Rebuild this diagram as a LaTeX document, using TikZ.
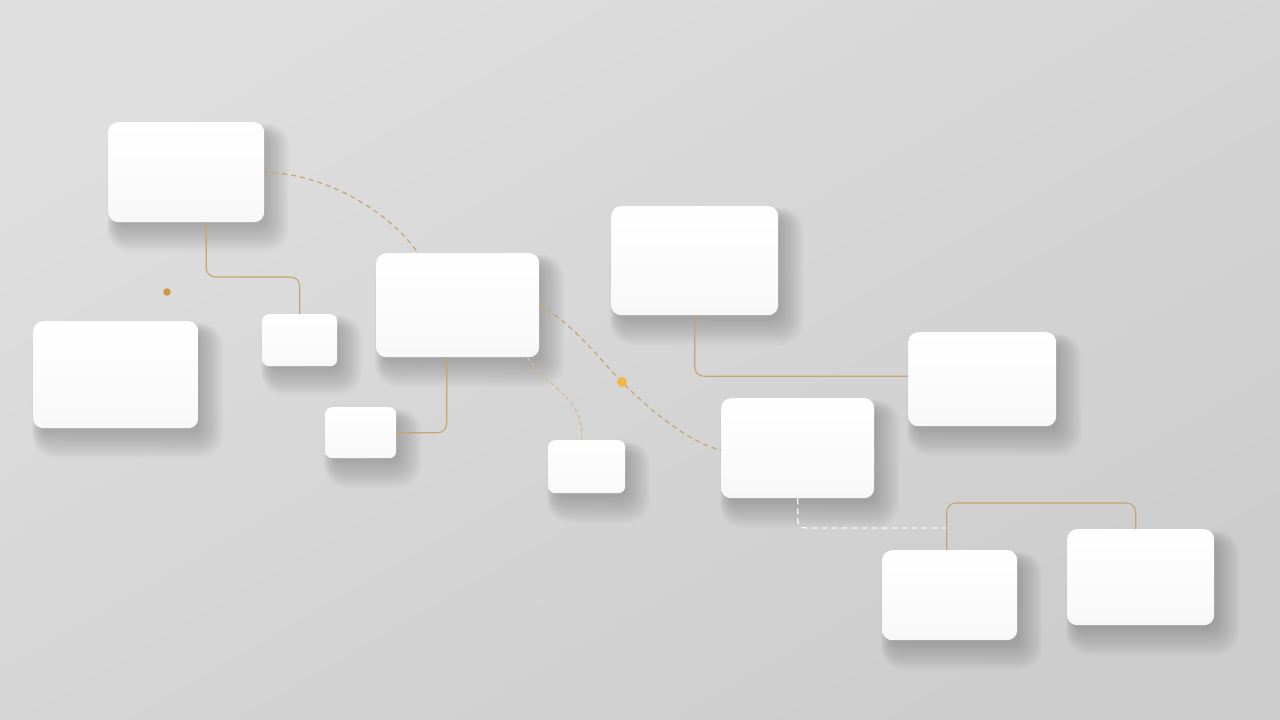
\documentclass[tikz,border=0pt]{standalone}
\usetikzlibrary{calc}
\definecolor{bgA}{HTML}{DEDEDE}
\definecolor{bgB}{HTML}{CDCDCD}
\definecolor{gold}{HTML}{C6A66C}
\definecolor{golddot}{HTML}{F2B845}
\definecolor{golddot2}{HTML}{C99A45}
\definecolor{boxlow}{HTML}{F8F8F8}
\pgfdeclarelayer{shadowlayer}
\pgfsetlayers{shadowlayer,main}
\tikzset{
  card/.style={draw=none, inner sep=0pt, anchor=north west, rounded corners=10pt,
    top color=white, bottom color=boxlow},
  shadowpiece/.style={fill=black, opacity=0.015},
  goldline/.style={draw=gold, line width=1.1pt, rounded corners=9pt},
  golddash/.style={draw=gold, line width=1.2pt, dash pattern=on 5pt off 4pt},
  whitedash/.style={draw=white!94!gray, line width=1.3pt, dash pattern=on 6pt off 4pt, rounded corners=8pt},
}
% name, x, y, w, h, corner radius
\newcommand\mycard[6]{%
  \begin{pgfonlayer}{shadowlayer}
    \foreach \e in {0,2,...,26}{
      \pgfmathsetmacro\rr{8+0.6*\e}
      \fill[shadowpiece, rounded corners=\rr pt]
        ({#2+8-0.35*\e},{#3+12-0.4*\e}) rectangle ({#2+#4+2+0.9*\e},{#3+#5+4+\e});
    }
  \end{pgfonlayer}
  \node[card, rounded corners=#6pt, minimum width=#4pt, minimum height=#5pt] (#1) at (#2,#3) {};
}
\begin{document}
\begin{tikzpicture}[x=1pt,y=-1pt]
\useasboundingbox (0,0) rectangle (1280,720);
\begin{pgfonlayer}{shadowlayer}
\shade[top color=bgA, bottom color=bgB, shading angle=30] (0,0) rectangle (1280,720);
\end{pgfonlayer}

\coordinate (wend) at (946,528);
\coordinate (br) at (1000,503);

\mycard{A}{108}{122}{156}{100}{10}
\mycard{B}{33}{321}{165}{107}{10}
\mycard{C}{262}{314}{75}{52}{7}
\mycard{D}{376}{253}{163}{104}{10}
\mycard{E}{325}{407}{71}{51}{7}
\mycard{F}{548}{440}{77}{53}{7}
\mycard{G}{611}{206}{167}{109}{10}
\mycard{H}{908}{332}{148}{94}{10}
\mycard{I}{721}{398}{153}{100}{10}
\mycard{J}{882}{550}{135}{90}{10}
\mycard{K}{1067}{529}{147}{96}{10}

\coordinate (a1) at ([xshift=20pt]A.south);
\coordinate (d1) at ([xshift=-11pt]D.south);
\coordinate (d2) at ([xshift=-12pt]D.south east);
\coordinate (f1) at ([xshift=-5pt]F.north);
\coordinate (j1) at ([xshift=-3pt]J.north);
\coordinate (k1) at ([xshift=-5pt]K.north);
\coordinate (dotB) at (622,382);

% A -> D dashed arc
\draw[golddash] (A.east) .. controls (330,174) and (392,215) .. ([xshift=42pt]D.north west);
% A -> C elbow
\draw[goldline] (a1) |- (C.north |- 0,277) -- (C.north);
% D -> E elbow
\draw[goldline] (d1) |- (E.east);
% D -> I dashed S-curve through dot
\draw[golddash] (D.east) .. controls (575,325) and (600,360) .. (dotB)
  .. controls (650,410) and (688,442) .. ([yshift=-2pt]I.west);
% D -> F light dashed
\draw[draw=gold!75!white, line width=1.2pt, dash pattern=on 4pt off 3pt]
  (d2) .. controls (548,390) and (584,395) .. (f1);
% G -> H elbow
\draw[goldline] (G.south) |- ([yshift=3pt]H.west);
% I -> bracket white dashed
\draw[whitedash] (I.south) |- (wend);
% J - K bracket
\draw[goldline] (j1) -- (j1 |- br) -- (k1 |- br) -- (k1);

% dots
\fill[golddot2] (167,292) circle (3.8pt);
\fill[golddot] (dotB) circle (5pt);
\end{tikzpicture}
\end{document}
